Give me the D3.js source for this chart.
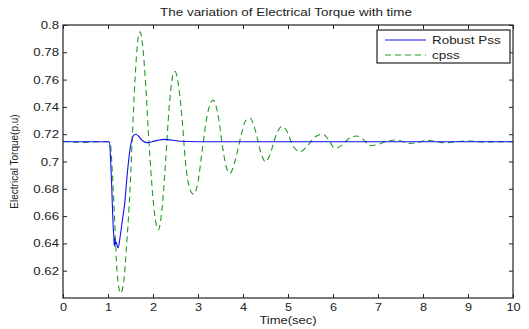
<!DOCTYPE html>
<html>
<head>
<meta charset="utf-8">
<script src="https://cdn.jsdelivr.net/npm/d3@7"></script>
<style>
  body { margin: 0; background: #fff; }
  svg { display: block; }
  text { font-family: "Liberation Sans", Arial, sans-serif; fill: #222; }
</style>
</head>
<body>
<div id="chart"></div>
<script>
var width = 529,
    height = 329;

var margin = {top: 25, right: 16, bottom: 31, left: 63};

var title = "The variation of Electrical Torque with time";
var xLabel = "Time(sec)";
var yLabel = "Electrical Torque(p.u)";
var seriesNames = ["Robust Pss", "cpss"];

var xTicks = [0, 1, 2, 3, 4, 5, 6, 7, 8, 9, 10];
var yTicks = [0.62, 0.64, 0.66, 0.68, 0.7, 0.72, 0.74, 0.76, 0.78, 0.8];

// Robust PSS response
var robustT = [0, 1.0, 1.03, 1.06, 1.08, 1.1, 1.115, 1.13, 1.14, 1.15, 1.16, 1.18, 1.225,
    1.27, 1.32, 1.37, 1.42, 1.47, 1.52, 1.57, 1.62, 1.68, 1.75, 1.82, 1.88, 1.98,
    2.1, 2.25, 2.4, 2.6, 3.0, 10];
var robustV = [0.7145, 0.7145, 0.7143, 0.70, 0.684, 0.665, 0.652, 0.645, 0.638, 0.644, 0.639, 0.641, 0.6366,
    0.645, 0.657, 0.669, 0.688, 0.704, 0.7145, 0.7192, 0.7200, 0.7185, 0.7158, 0.7142, 0.7138, 0.7145,
    0.7155, 0.7162, 0.7158, 0.7148, 0.7145, 0.7145];

// Conventional PSS response
var cpssT = [0, 0.3, 0.5, 0.8, 1.0, 1.05, 1.1, 1.15, 1.2, 1.28, 1.35, 1.41, 1.49, 1.54, 1.6, 1.66,
    1.71, 1.77, 1.84, 1.9, 1.97, 2.05, 2.12, 2.2, 2.28, 2.36, 2.44, 2.49, 2.56, 2.65, 2.72,
    2.8, 2.9, 3.0, 3.1, 3.2, 3.34, 3.44, 3.55, 3.62, 3.71, 3.82, 3.95, 4.06, 4.16, 4.28,
    4.4, 4.5, 4.6, 4.72, 4.86, 4.98, 5.1, 5.27, 5.42, 5.6, 5.78, 5.92, 6.04, 6.2, 6.36,
    6.53, 6.68, 6.82, 7.0, 7.2, 7.41, 7.56, 7.71, 7.9, 8.08, 8.3, 8.49, 8.75, 9.0, 9.3, 10];
var cpssV = [0.7148, 0.7142, 0.714, 0.7145, 0.7145, 0.713, 0.69, 0.655, 0.62, 0.6035, 0.612, 0.637, 0.68, 0.718, 0.76, 0.788,
    0.795, 0.785, 0.755, 0.72, 0.685, 0.658, 0.65, 0.665, 0.70, 0.74, 0.763, 0.766, 0.757, 0.73, 0.70,
    0.682, 0.676, 0.685, 0.71, 0.733, 0.745, 0.735, 0.71, 0.697, 0.6914, 0.70, 0.718, 0.730, 0.7317, 0.722,
    0.706, 0.6998, 0.705, 0.718, 0.7255, 0.722, 0.712, 0.7072, 0.711, 0.718, 0.720, 0.715, 0.7097, 0.712, 0.717,
    0.7187, 0.716, 0.7116, 0.7125, 0.7148, 0.7158, 0.7145, 0.7133, 0.714, 0.7155, 0.7145, 0.7137, 0.7145, 0.715, 0.7143, 0.7145];

var svg = d3.select("#chart").append("svg")
    .attr("width", width)
    .attr("height", height);

var x = d3.scaleLinear().domain([0, 10]).range([margin.left, width - margin.right]);
var y = d3.scaleLinear().domain([0.6, 0.8]).range([height - margin.bottom, margin.top]);

var plotW = width - margin.left - margin.right,
    plotH = height - margin.top - margin.bottom;

// the original figure's text is stretched sideways a bit
function widen(sel, k) {
    sel.each(function() {
        var w = this.getComputedTextLength();
        if (w > 0) {
            d3.select(this)
                .attr("textLength", w * k)
                .attr("lengthAdjust", "spacingAndGlyphs");
        }
    });
}

// clip for the curves
svg.append("clipPath").attr("id", "clip")
  .append("rect")
    .attr("x", margin.left).attr("y", margin.top)
    .attr("width", plotW).attr("height", plotH);

var line = d3.line()
    .x(function(d) { return x(d[0]); })
    .y(function(d) { return y(d[1]); })
    .curve(d3.curveMonotoneX);

var cpssData = cpssT.map(function(t, i) { return [t, cpssV[i]]; });
var robustData = robustT.map(function(t, i) { return [t, robustV[i]]; });

var greenColor = "#229a22",
    blueColor = "#1010f0";

svg.append("path")
    .datum(cpssData)
    .attr("clip-path", "url(#clip)")
    .attr("d", line)
    .attr("fill", "none")
    .attr("stroke", greenColor)
    .attr("stroke-width", 1.1)
    .attr("stroke-dasharray", "6,4");

svg.append("path")
    .datum(robustData)
    .attr("clip-path", "url(#clip)")
    .attr("d", line)
    .attr("fill", "none")
    .attr("stroke", blueColor)
    .attr("stroke-width", 1.1);

// axes with inward ticks on all sides
var tickLen = 4;
var xBottom = svg.append("g")
    .attr("transform", "translate(0," + (height - margin.bottom) + ")")
    .call(d3.axisBottom(x).tickValues(xTicks).tickSizeInner(-tickLen).tickSizeOuter(0).tickPadding(5));
var xTop = svg.append("g")
    .attr("transform", "translate(0," + margin.top + ")")
    .call(d3.axisTop(x).tickValues(xTicks).tickSizeInner(-tickLen).tickSizeOuter(0).tickFormat(""));
var yLeft = svg.append("g")
    .attr("transform", "translate(" + margin.left + ",0)")
    .call(d3.axisLeft(y).tickValues(yTicks).tickSizeInner(-tickLen).tickSizeOuter(0).tickPadding(4)
      .tickFormat(function(d) { return d3.format("")(+d.toFixed(2)); }));
var yRight = svg.append("g")
    .attr("transform", "translate(" + (width - margin.right) + ",0)")
    .call(d3.axisRight(y).tickValues(yTicks).tickSizeInner(-tickLen).tickSizeOuter(0).tickFormat(""));

[xBottom, xTop, yLeft, yRight].forEach(function(g) {
    g.select(".domain").remove();
    g.selectAll(".tick line").attr("stroke", "#222");
    g.selectAll("text").attr("font-size", 11).attr("fill", "#222")
      .style("font-family", "'Liberation Sans', Arial, sans-serif");
});
widen(xBottom.selectAll("text"), 1.15);
widen(yLeft.selectAll("text"), 1.2);

// frame
svg.append("rect")
    .attr("x", margin.left).attr("y", margin.top)
    .attr("width", plotW).attr("height", plotH)
    .attr("fill", "none")
    .attr("stroke", "#222")
    .attr("stroke-width", 1.2);

// title and labels
svg.append("text")
    .attr("x", margin.left + plotW / 2 - 2)
    .attr("y", 16)
    .attr("text-anchor", "middle")
    .attr("font-size", 11)
    .text(title)
    .call(widen, 1.22);

svg.append("text")
    .attr("x", margin.left + plotW / 2)
    .attr("y", 324)
    .attr("text-anchor", "middle")
    .attr("font-size", 11)
    .text(xLabel)
    .call(widen, 1.18);

svg.append("text")
    .attr("transform", "translate(18," + (margin.top + plotH / 2) + ") rotate(-90)")
    .attr("text-anchor", "middle")
    .attr("font-size", 10)
    .text(yLabel);

// legend
var legend = svg.append("g").attr("transform", "translate(377,30)");
legend.append("rect")
    .attr("width", 133).attr("height", 33)
    .attr("fill", "#fff")
    .attr("stroke", "#222")
    .attr("stroke-width", 1.2);

var legendStyles = [
    {color: blueColor, dash: null},
    {color: greenColor, dash: "6,4"}
];
seriesNames.forEach(function(name, i) {
    var ly = 10 + i * 15;
    legend.append("line")
        .attr("x1", 8).attr("x2", 49)
        .attr("y1", ly).attr("y2", ly)
        .attr("stroke", legendStyles[i].color)
        .attr("stroke-width", 1.1)
        .attr("stroke-dasharray", legendStyles[i].dash);
    legend.append("text")
        .attr("x", 55).attr("y", ly + 4)
        .attr("font-size", 11)
        .text(name)
        .call(widen, 1.22);
});
</script>
</body>
</html>
